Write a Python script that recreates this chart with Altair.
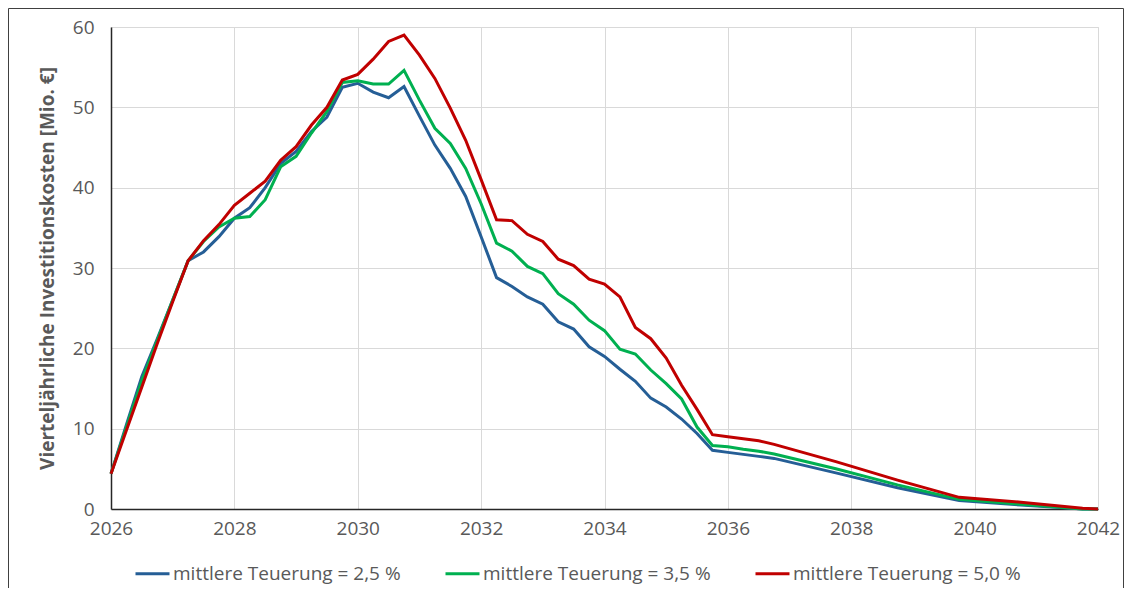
import altair as alt
import pandas as pd

# x positions (years, quarterly until end-2036, then yearly tail)
x_years = [
    2026.0, 2026.25, 2026.5, 2026.75, 2027.0, 2027.25, 2027.5, 2027.75,
    2028.0, 2028.25, 2028.5, 2028.75, 2029.0, 2029.25, 2029.5, 2029.75,
    2030.0, 2030.25, 2030.5, 2030.75, 2031.0, 2031.25, 2031.5, 2031.75,
    2032.0, 2032.25, 2032.5, 2032.75, 2033.0, 2033.25, 2033.5, 2033.75,
    2034.0, 2034.25, 2034.5, 2034.75, 2035.0, 2035.25, 2035.5, 2035.75,
    2036.0, 2036.25, 2036.5, 2036.75, 2037.75, 2038.75, 2039.75, 2040.75,
    2041.75, 2042.0,
]

teuerung_25 = [
    4.4, 10.5, 16.5, 21.2, 26.0, 30.9, 32.0, 33.9,
    36.2, 37.5, 40.0, 43.0, 44.5, 47.0, 48.8, 52.5,
    53.0, 51.9, 51.2, 52.6, 48.9, 45.3, 42.4, 38.9,
    33.9, 28.8, 27.7, 26.4, 25.5, 23.3, 22.4, 20.2,
    19.0, 17.4, 15.9, 13.8, 12.7, 11.2, 9.4, 7.3,
    7.05, 6.8, 6.55, 6.3, 4.5, 2.65, 1.05, 0.5,
    0.0, 0.0,
]

teuerung_35 = [
    4.4, 10.2, 16.0, 21.0, 26.0, 30.9, 33.3, 35.1,
    36.2, 36.4, 38.5, 42.6, 43.9, 46.8, 49.5, 53.1,
    53.3, 52.9, 52.9, 54.6, 50.9, 47.4, 45.5, 42.4,
    38.0, 33.1, 32.1, 30.2, 29.3, 26.8, 25.5, 23.5,
    22.2, 19.9, 19.3, 17.3, 15.6, 13.7, 10.2, 7.9,
    7.75, 7.45, 7.2, 6.85, 5.0, 3.0, 1.2, 0.6,
    0.0, 0.0,
]

teuerung_50 = [
    4.4, 9.8, 15.2, 20.6, 25.8, 30.9, 33.4, 35.4,
    37.8, 39.3, 40.8, 43.4, 45.1, 47.8, 50.0, 53.4,
    54.1, 56.0, 58.2, 59.0, 56.5, 53.6, 49.9, 45.9,
    41.0, 36.0, 35.9, 34.2, 33.3, 31.1, 30.3, 28.6,
    28.0, 26.4, 22.6, 21.2, 18.8, 15.4, 12.4, 9.25,
    9.0, 8.75, 8.5, 8.05, 5.9, 3.6, 1.45, 0.85,
    0.1, 0.0,
]

series_names = [
    "mittlere Teuerung = 2,5 %",
    "mittlere Teuerung = 3,5 %",
    "mittlere Teuerung = 5,0 %",
]
series_colors = ["#255E96", "#00B050", "#C00000"]

x_ticks = [2026, 2028, 2030, 2032, 2034, 2036, 2038, 2040, 2042]
y_ticks = [0, 10, 20, 30, 40, 50, 60]

rows = []
for name, vals in zip(series_names, [teuerung_25, teuerung_35, teuerung_50]):
    for xv, yv in zip(x_years, vals):
        rows.append({"Jahr": xv, "Wert": yv, "Szenario": name})
df = pd.DataFrame(rows)

FONT = "Open Sans"
GRAY = "#595959"
W, H = 987, 482

lines = alt.Chart(df).mark_line(strokeWidth=3, clip=False).encode(
    x=alt.X(
        "Jahr:Q",
        scale=alt.Scale(domain=[2026, 2042], nice=False, zero=False),
        axis=alt.Axis(
            values=x_ticks, format="d", title=None, grid=True,
            gridColor="#D9D9D9", gridWidth=1, ticks=False,
            domainColor="#262626", domainWidth=1.5,
            labelFont=FONT, labelFontSize=19, labelColor=GRAY, labelPadding=10,
            labelFlush=False,
        ),
    ),
    y=alt.Y(
        "Wert:Q",
        scale=alt.Scale(domain=[0, 60], nice=False),
        axis=alt.Axis(
            values=y_ticks, title="Vierteljährliche Investitionskosten [Mio. €]",
            grid=True, gridColor="#D9D9D9", gridWidth=1, ticks=False,
            domainColor="#262626", domainWidth=1.5,
            labelFont=FONT, labelFontSize=19, labelColor=GRAY, labelPadding=17,
            titleFont=FONT, titleFontSize=19, titleFontWeight="bold",
            titleColor=GRAY, titlePadding=15,
        ),
    ),
    color=alt.Color(
        "Szenario:N",
        scale=alt.Scale(domain=series_names, range=series_colors),
        legend=alt.Legend(
            title=None, orient="none", direction="horizontal",
            legendX=23, legendY=528, symbolType="stroke",
            symbolSize=1156, symbolStrokeWidth=3, labelOffset=2,
            columnPadding=38, labelFont=FONT, labelFontSize=19,
            labelColor=GRAY, labelLimit=400,
        ),
    ),
    order=alt.Order("Jahr:Q"),
)

frame = alt.Chart(pd.DataFrame({"a": [0]})).mark_rect(
    fill=None, stroke="#404040", strokeWidth=1, clip=False
).encode(
    x=alt.value(-102.5), x2=alt.value(W + 25.5),
    y=alt.value(-18.5), y2=alt.value(H + 200),
)

chart = alt.layer(frame, lines).properties(
    width=W, height=H,
    padding={"left": 103, "top": 19, "right": 26, "bottom": 79},
    autosize=alt.AutoSizeParams(type="none"),
).configure_view(stroke=None).configure(background="white")

chart.save("out.html", embed_options={"renderer": "svg", "actions": False})
